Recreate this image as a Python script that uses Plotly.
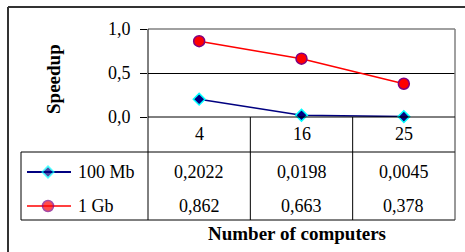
import plotly.graph_objects as go

# ---- data ----
categories = ["4", "16", "25"]
series_names = ["100 Mb", "1 Gb"]
speedup_100mb = [0.2022, 0.0198, 0.0045]
speedup_1gb = [0.862, 0.663, 0.378]
table_100mb = ["0,2022", "0,0198", "0,0045"]
table_1gb = ["0,862", "0,663", "0,378"]
y_tickvals = [0.0, 0.5, 1.0]
y_ticktext = ["0,0", "0,5", "1,0"]
x_title = "Number of computers"
y_title = "Speedup"

W, H = 465, 252
FONT = "Liberation Serif"

# layout (pixel) constants
PL, PR, PT, PB = 148, 455, 29, 117   # plot area
TL, TB = 21, 220                      # table left/bottom
ROW_LINE = 152
ROW_Y = [172, 206]
HEAD_Y = 134

def px(x):
    return x / W

def py(y):
    return 1 - y / H

fig = go.Figure()
xs = list(range(len(categories)))

fig.add_trace(go.Scatter(x=xs, y=speedup_100mb, mode="lines+markers", name=series_names[0],
                         line=dict(color="#000080", width=1.5),
                         marker=dict(symbol="diamond", size=9, color="#000080",
                                     line=dict(color="#00FFFF", width=1.5)),
                         cliponaxis=False, showlegend=False))
fig.add_trace(go.Scatter(x=xs, y=speedup_1gb, mode="lines+markers", name=series_names[1],
                         line=dict(color="#FF0000", width=1.5),
                         marker=dict(symbol="circle", size=11, color="#FF0000",
                                     line=dict(color="#800080", width=1.5)),
                         cliponaxis=False, showlegend=False))

# legend swatches in the table (pixel overlay axis)
fig.add_trace(go.Scatter(x=[27, 48, 71], y=[ROW_Y[0]] * 3, xaxis="x2", yaxis="y2",
                         mode="lines+markers", line=dict(color="#000080", width=2),
                         marker=dict(symbol="diamond", size=[0, 9, 0], color="#000080",
                                     line=dict(color="#00FFFF", width=1.5)),
                         showlegend=False, hoverinfo="skip", cliponaxis=False))
fig.add_trace(go.Scatter(x=[27, 48, 71], y=[ROW_Y[1]] * 3, xaxis="x2", yaxis="y2",
                         mode="lines+markers", line=dict(color="#FF0000", width=1.5),
                         marker=dict(symbol="circle", size=[0, 11, 0], color="#FF0000",
                                     line=dict(color="#800080", width=1.5)),
                         showlegend=False, hoverinfo="skip", cliponaxis=False))

shapes = []
def line(x0, y0, x1, y1, color="black", width=1, xref="x2", yref="y2"):
    shapes.append(dict(type="line", x0=x0, y0=y0, x1=x1, y1=y1, xref=xref, yref=yref,
                       line=dict(color=color, width=width), layer="above"))

# outer border
line(8, 7, 470, 7, color="#333333", width=2)
line(8, 7, 8, 260, color="#333333", width=2)
# plot area top/right (gray)
line(PL, PT, PR, PT, color="#808080", width=1.5)
line(PR, PT, PR, PB, color="#808080", width=1.5)
# table
line(PL, PB, PR, PB)
line(TL, ROW_LINE, PR, ROW_LINE)
line(TL, TB, PR, TB)
line(TL, ROW_LINE, TL, TB)
line(PL, PT, PL, TB)
line(PR, PB, PR, TB, color="#333333")
for b in [0.5, 1.5]:
    shapes.append(dict(type="line", x0=b, x1=b, y0=PB, y1=TB, xref="x", yref="y2",
                       line=dict(color="black", width=1)))

annotations = []
tfont = dict(family=FONT, size=18, color="black")
for i, c in enumerate(categories):
    annotations.append(dict(x=i, y=HEAD_Y, xref="x", yref="y2", text=c, showarrow=False,
                            font=tfont, xanchor="center", yanchor="middle"))
    annotations.append(dict(x=i, y=ROW_Y[0], xref="x", yref="y2", text=table_100mb[i],
                            showarrow=False, font=tfont, xanchor="center", yanchor="middle"))
    annotations.append(dict(x=i, y=ROW_Y[1], xref="x", yref="y2", text=table_1gb[i],
                            showarrow=False, font=tfont, xanchor="center", yanchor="middle"))
for name, yy in zip(series_names, ROW_Y):
    annotations.append(dict(x=76, y=yy, xref="x2", yref="y2", text=name, showarrow=False,
                            font=tfont, xanchor="left", yanchor="middle"))
annotations.append(dict(x=297, y=233, xref="x2", yref="y2", text="<b>" + x_title + "</b>",
                        showarrow=False, font=dict(family=FONT, size=19, color="black"),
                        xanchor="center", yanchor="middle"))
annotations.append(dict(x=53, y=79, xref="x2", yref="y2", text="<b>" + y_title + "</b>",
                        showarrow=False, font=dict(family=FONT, size=19, color="black"),
                        textangle=-90, xanchor="center", yanchor="middle"))

fig.update_layout(
    template="none",
    width=W, height=H, margin=dict(l=0, r=0, t=0, b=0, pad=0, autoexpand=False),
    paper_bgcolor="white", plot_bgcolor="rgba(0,0,0,0)",
    xaxis=dict(domain=[px(PL), px(PR)], range=[-0.5, 2.5], showticklabels=False, ticks="",
               showgrid=False, zeroline=False, showline=False, fixedrange=True, anchor="y",
               automargin=False),
    yaxis=dict(domain=[py(PB), py(PT)], range=[0, 1], tickvals=y_tickvals, ticktext=y_ticktext,
               ticks="outside", ticklen=7, tickcolor="black", tickwidth=1,
               showgrid=True, gridcolor="black", gridwidth=1, zeroline=False,
               showline=False, ticklabelstandoff=6, anchor="x", automargin=False,
               tickfont=dict(family=FONT, size=18, color="black"), fixedrange=True),
    xaxis2=dict(domain=[0, 1], range=[0, W], visible=False, anchor="y2", fixedrange=True,
                automargin=False),
    yaxis2=dict(domain=[0, 1], range=[H, 0], visible=False, anchor="x2", fixedrange=True,
                automargin=False),
    shapes=shapes, annotations=annotations, showlegend=False,
)

fig.write_html("out.html", config={"displayModeBar": False},
               post_script="document.body.style.margin='0';document.body.style.overflow='hidden';")
